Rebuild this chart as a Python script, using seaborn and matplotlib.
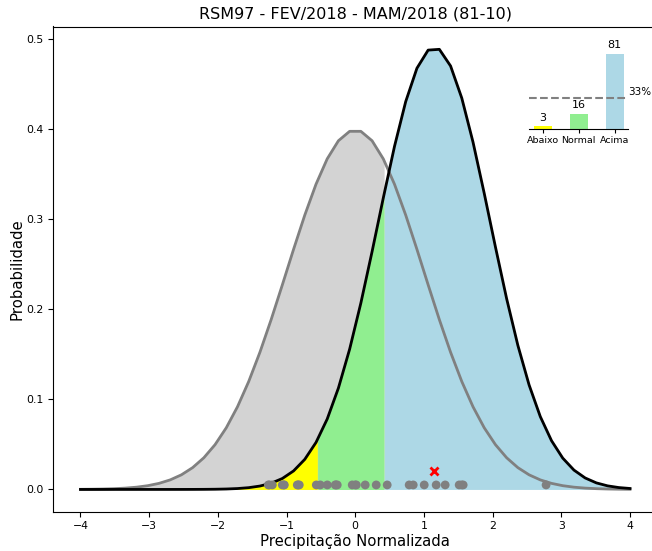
import numpy as np
import pandas as pd
import matplotlib
matplotlib.use("Agg")
import matplotlib.pyplot as plt
import seaborn as sns

# ---- data ----
title = "RSM97 - FEV/2018 - MAM/2018 (81-10)"
clim_mean, clim_sd = 0.0, 1.0          # gray (climatology) curve
fcst_mean, fcst_sd = 1.15, 0.813       # black (forecast) curve
lower_tercile, upper_tercile = -0.55, 0.42
obs_years = [-1.265, -1.25, -1.207, -1.062, -1.04, -1.033, -0.844, -0.83, -0.815, -0.567,
             -0.509, -0.407, -0.291, -0.28, -0.262, -0.044, 0.0, 0.015, 0.145, 0.305,
             0.465, 0.785, 0.844, 1.004, 1.178, 1.309, 1.513, 1.55, 1.571, 2.778]
forecast_x, forecast_y = 1.15, 0.02
categories = ["Abaixo", "Normal", "Acima"]
probabilities = [3, 16, 81]
bar_colors = ["yellow", "lightgreen", "lightblue"]
climatology_pct = 33

def pdf(x, m, s):
    return np.exp(-0.5 * ((x - m) / s) ** 2) / (s * np.sqrt(2 * np.pi))

x = np.linspace(-4, 4)
clim = pdf(x, clim_mean, clim_sd)
fcst = pdf(x, fcst_mean, fcst_sd)
xf = np.linspace(-4, 4, 2001)
climf = np.interp(xf, x, clim)
fcstf = np.interp(xf, x, fcst)

fig = plt.figure(figsize=(6.52, 5.51), dpi=100)
ax = fig.add_axes([53/652, 1 - 511.5/551, (657.5 - 53)/652, (511.5 - 26.5)/551])

# fills
ax.fill_between(xf, 0, climf, where=xf <= upper_tercile, color="lightgray", lw=0, zorder=1)
ax.fill_between(xf, 0, fcstf, where=xf <= lower_tercile, color="yellow", lw=0, zorder=2)
ax.fill_between(xf, 0, fcstf, where=(xf >= lower_tercile) & (xf <= upper_tercile), color="lightgreen", lw=0, zorder=2)
ax.fill_between(xf, 0, fcstf, where=xf >= upper_tercile, color="lightblue", lw=0, zorder=2)

df = pd.DataFrame({"x": x, "clim": clim, "fcst": fcst})
sns.lineplot(data=df, x="x", y="clim", color="gray", lw=2, ax=ax, zorder=3)
sns.lineplot(data=df, x="x", y="fcst", color="black", lw=2, ax=ax, zorder=4)

obs = pd.DataFrame({"x": obs_years, "y": 0.005})
sns.scatterplot(data=obs, x="x", y="y", color="gray", s=40, edgecolor="none", ax=ax, zorder=5)
ax.plot([forecast_x], [forecast_y], marker="x", color="red", ms=6, mew=2, ls="none", zorder=6)

ax.set_xlim(-4.4, 4.4)
ax.set_ylim(-0.0245, 0.514)
ax.set_xticks(np.arange(-4, 5, 1))
ax.set_yticks(np.arange(0, 0.51, 0.1))
ax.tick_params(labelsize=7.8)
ax.set_xlabel("Precipitação Normalizada", fontsize=10.7, labelpad=2)
ax.set_ylabel("Probabilidade", fontsize=10.7, labelpad=1)
ax.set_title(title, fontsize=11.5)

# inset bars
ins = fig.add_axes([529/652, 1 - 129/551, 99/652, 75/551])
bdf = pd.DataFrame({"cat": categories, "val": probabilities})
sns.barplot(data=bdf, x="cat", y="val", hue="cat", palette=bar_colors, width=0.5,
            saturation=1, legend=False, ax=ins)
ins.set_xlim(-0.375, 2.375)
ins.set_ylim(0, 81)
ins.axhline(climatology_pct, color="gray", ls="--", lw=1.5)
ins.text(2.38, climatology_pct + 2, f"{climatology_pct}%", fontsize=7.5, va="bottom", ha="left")
for i, v in enumerate(probabilities):
    ins.text(i, v + 4, str(v), ha="center", va="bottom", fontsize=8, clip_on=False)
for s in ["left", "top", "right"]:
    ins.spines[s].set_visible(False)
ins.set_yticks([])
ins.set_xlabel("")
ins.set_ylabel("")
ins.tick_params(axis="x", labelsize=6.8, length=3, pad=2)

fig.savefig("out.png", dpi=100)
